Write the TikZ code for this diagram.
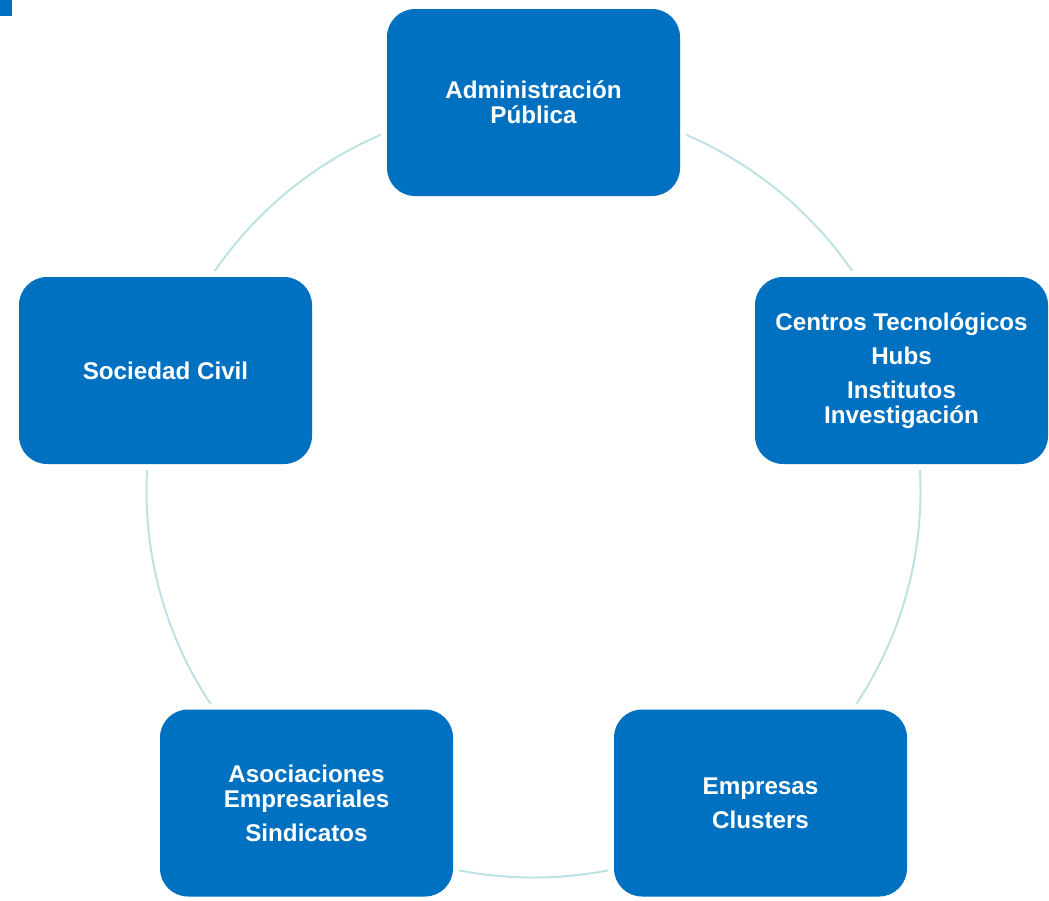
\documentclass[tikz,border=0pt]{standalone}
\usepackage{fontspec}
\setmainfont{Liberation Sans}
\definecolor{boxblue}{RGB}{0,112,192}
\definecolor{ringcol}{RGB}{190,226,228}
\begin{document}
\begin{tikzpicture}[x=1pt,y=-1pt,
  actor/.style={rectangle, rounded corners=28pt, fill=boxblue,
    minimum width=293pt, minimum height=187pt, inner sep=0pt,
    preaction={draw=white, line width=12pt},
    text=white, align=center,
    font=\fontsize{24.2pt}{25pt}\selectfont\bfseries}]
\useasboundingbox (0,0) rectangle (1049,900);
\fill[boxblue] (0,0) rectangle (12,16);
\coordinate (c) at (533.5,490.5);
\draw[ringcol, line width=2pt] (c) circle[radius=387pt];
\node[actor] (ap) at (533.5,102.5) {Administración\\Pública};
\node[actor] (ct) at (901.5,370.5) {Centros Tecnológicos\\[9pt]Hubs\\[9pt]Institutos\\Investigación};
\node[actor] (sc) at (165.5,370.5) {Sociedad Civil};
\node[actor] (ae) at (306.5,803) {Asociaciones\\Empresariales\\[9pt]Sindicatos};
\node[actor] (em) at (760.5,803) {Empresas\\[9pt]Clusters};
\end{tikzpicture}
\end{document}
